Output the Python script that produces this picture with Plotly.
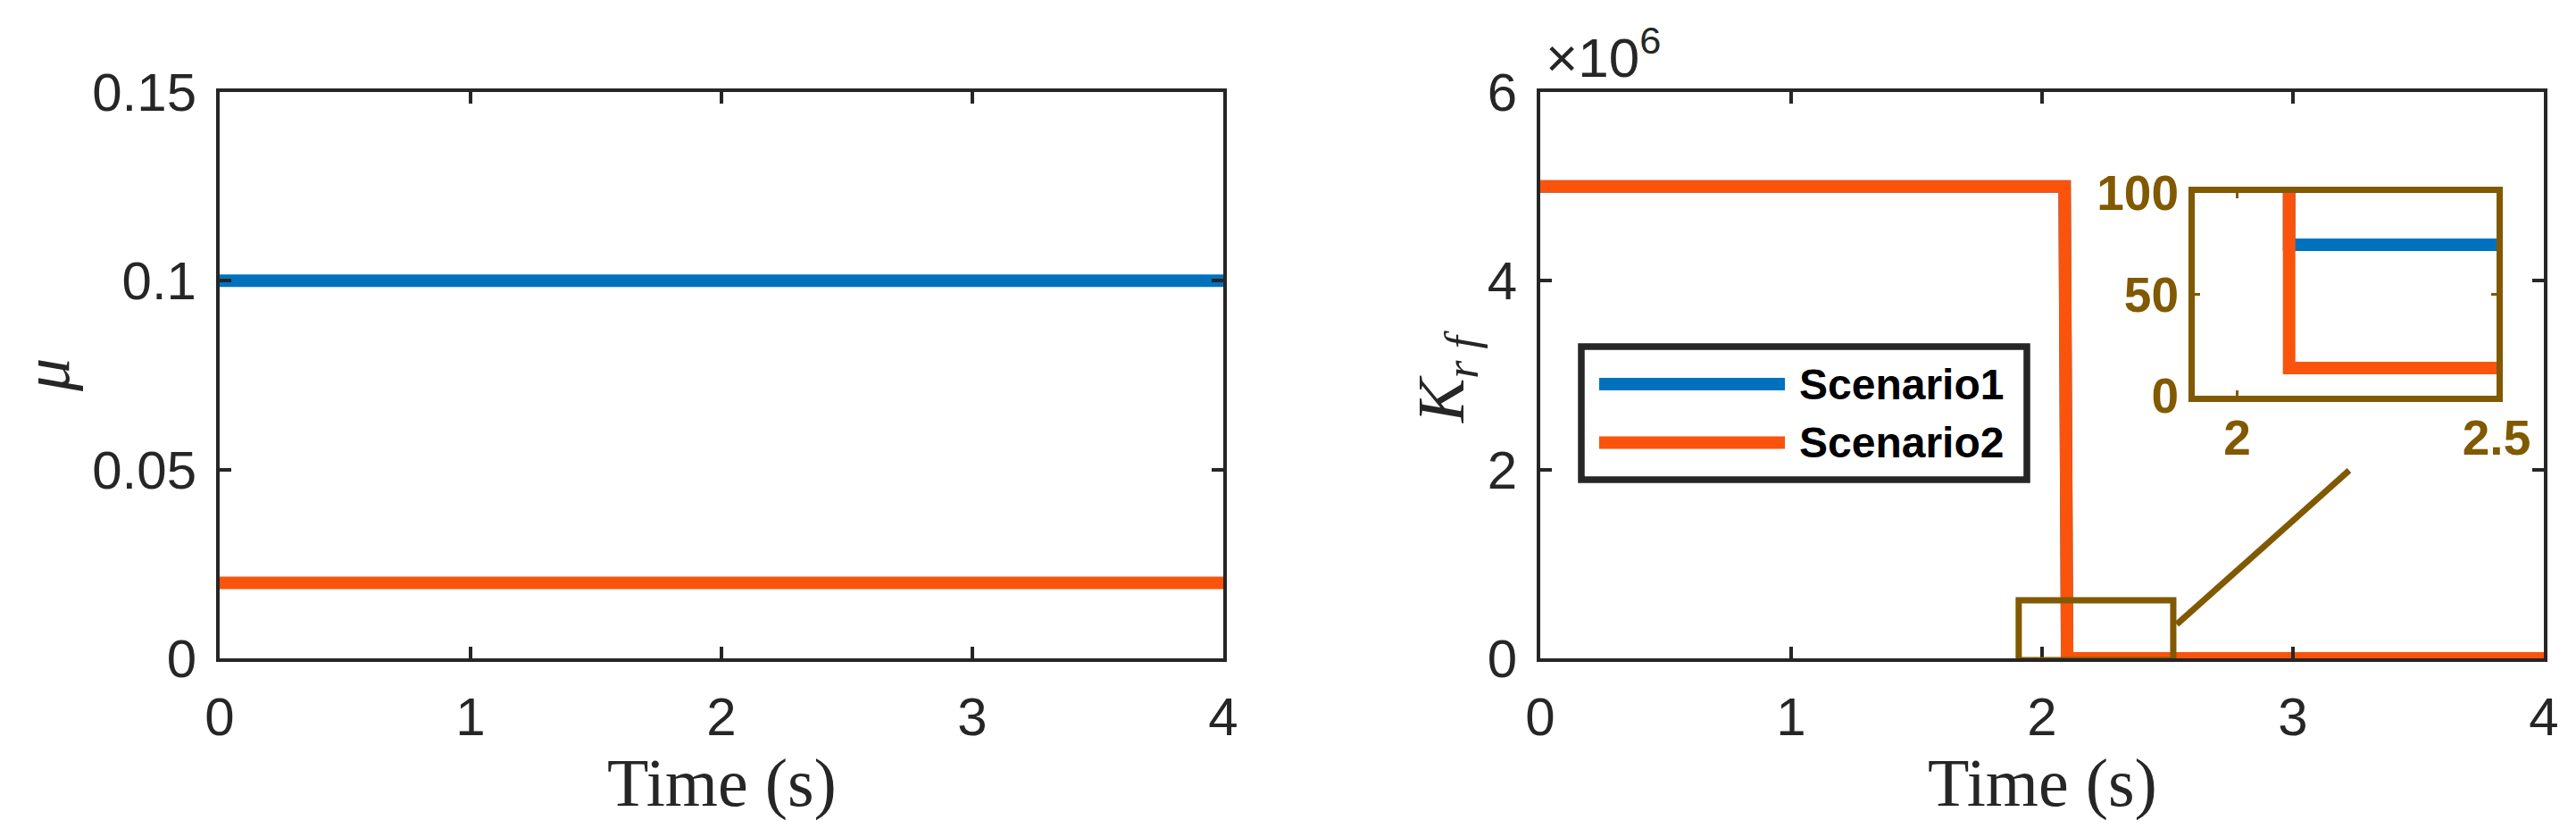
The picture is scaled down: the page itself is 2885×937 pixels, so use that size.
import plotly.graph_objects as go

# page body has an 8px default margin: size the figure so the page fills the window exactly
PAGE_W, PAGE_H = 2885, 937
OFF = 8
W, H = PAGE_W - 2 * OFF, PAGE_H - 2 * OFF

# ---------------- data ----------------
series_names = ["Scenario1", "Scenario2"]

time_mu = [0, 4]
mu_s1 = [0.1, 0.1]
mu_s2 = [0.02, 0.02]

time_k1 = [0, 2.09, 2.1, 4]
krf_s1 = [5e6, 5e6, 74.4, 74.4]
time_k2 = [0, 2.09, 2.1, 4]
krf_s2 = [5e6, 5e6, 13.7, 13.7]

time_ticks = [0, 1, 2, 3, 4]
mu_ticks = [0, 0.05, 0.1, 0.15]
mu_ticklabels = ["0", "0.05", "0.1", "0.15"]
krf_ticks = [0, 2e6, 4e6, 6e6]
krf_ticklabels = ["0", "2", "4", "6"]
inset_xticks = [2, 2.5]
inset_xticklabels = ["2", "2.5"]
inset_yticks = [0, 50, 100]
inset_yticklabels = ["0", "50", "100"]

# zoom-window annotation (data coords of the right axes)
zoom_x = [1.907, 2.523]
zoom_y = [-0.02e6, 0.615e6]
connector_x = [2.537, 3.224]
connector_y = [0.36e6, 1.99e6]

# ---------------- styles ----------------
BLUE = "#0072BD"
ORANGE = "#FA540C"
BROWN = "#805900"
DARK = "#262626"
SANS = "Liberation Sans, Arial, Helvetica, sans-serif"
SERIF = "Liberation Serif, Times New Roman, serif"
LW = 14


def px(x):
    return (x - OFF) / W


def py(y):
    return 1 - (y - OFF) / H


fig = go.Figure()

# left panel
fig.add_trace(go.Scatter(x=time_mu, y=mu_s1, mode="lines", name=series_names[0],
                         line=dict(color=BLUE, width=LW), xaxis="x", yaxis="y", showlegend=False))
fig.add_trace(go.Scatter(x=time_mu, y=mu_s2, mode="lines", name=series_names[1],
                         line=dict(color=ORANGE, width=LW), xaxis="x", yaxis="y", showlegend=False))
# right panel
fig.add_trace(go.Scatter(x=time_k1, y=krf_s1, mode="lines", name=series_names[0],
                         line=dict(color=BLUE, width=LW), xaxis="x2", yaxis="y2", showlegend=False))
fig.add_trace(go.Scatter(x=time_k2, y=krf_s2, mode="lines", name=series_names[1],
                         line=dict(color=ORANGE, width=LW), xaxis="x2", yaxis="y2", showlegend=False))
# inset
fig.add_trace(go.Scatter(x=time_k1, y=krf_s1, mode="lines", name=series_names[0],
                         line=dict(color=BLUE, width=LW), xaxis="x3", yaxis="y3", showlegend=False))
fig.add_trace(go.Scatter(x=time_k2, y=krf_s2, mode="lines", name=series_names[1],
                         line=dict(color=ORANGE, width=LW), xaxis="x3", yaxis="y3", showlegend=False))

main_ax = dict(showline=True, linewidth=4, linecolor=DARK, mirror="allticks",
               ticks="inside", ticklen=13, tickwidth=4, tickcolor=DARK,
               showgrid=False, zeroline=False, automargin=False,
               tickfont=dict(family=SANS, size=60, color=DARK))
inset_ax = dict(showline=True, linewidth=7, linecolor=BROWN, mirror="allticks",
                ticks="inside", ticklen=6, tickwidth=3, tickcolor=BROWN,
                showgrid=False, zeroline=False, automargin=False,
                tickfont=dict(family=SANS, size=55, color=BROWN, weight="bold"))

ydom = [py(737), py(103)]

fig.update_layout(
    width=W, height=H,
    margin=dict(l=0, r=0, t=0, b=0),
    paper_bgcolor="white", plot_bgcolor="white",
    showlegend=False,
    xaxis=dict(main_ax, domain=[px(246), px(1370)], range=[0, 4], tickvals=time_ticks,
               anchor="y", ticklabelstandoff=10),
    yaxis=dict(main_ax, domain=ydom, range=[0, 0.15], tickvals=mu_ticks,
               ticktext=mu_ticklabels, anchor="x", ticklabelstandoff=10),
    xaxis2=dict(main_ax, domain=[px(1725), px(2849)], range=[0, 4], tickvals=time_ticks,
                anchor="y2", ticklabelstandoff=10),
    yaxis2=dict(main_ax, domain=ydom, range=[0, 6e6], tickvals=krf_ticks,
                ticktext=krf_ticklabels, anchor="x2", ticklabelstandoff=10),
    xaxis3=dict(inset_ax, domain=[px(2458), px(2796)], range=[1.918, 2.5],
                tickvals=inset_xticks, ticktext=inset_xticklabels, anchor="y3",
                ticklabelstandoff=-7),
    yaxis3=dict(inset_ax, domain=[py(443), py(216)], range=[0, 100],
                tickvals=inset_yticks, ticktext=inset_yticklabels, anchor="x3",
                ticklabelstandoff=0),
)

shapes = [
    dict(type="rect", xref="x2", yref="y2", x0=zoom_x[0], x1=zoom_x[1],
         y0=zoom_y[0], y1=zoom_y[1], line=dict(color=BROWN, width=7), layer="above"),
    dict(type="line", xref="x2", yref="y2", x0=connector_x[0], x1=connector_x[1],
         y0=connector_y[0], y1=connector_y[1], line=dict(color=BROWN, width=7)),
    # legend box
    dict(type="rect", xref="paper", yref="paper", x0=px(1771), x1=px(2270),
         y0=py(537), y1=py(388), line=dict(color=DARK, width=7.5), fillcolor="white",
         layer="above"),
    dict(type="line", xref="paper", yref="paper", x0=px(1791), x1=px(1999),
         y0=py(430), y1=py(430), line=dict(color=BLUE, width=LW)),
    dict(type="line", xref="paper", yref="paper", x0=px(1791), x1=px(1999),
         y0=py(495.5), y1=py(495.5), line=dict(color=ORANGE, width=LW)),
]
fig.update_layout(shapes=shapes)

annotations = [
    dict(text="<b>" + series_names[0] + "</b>", x=px(2013), y=py(430), xref="paper", yref="paper",
         xanchor="left", yanchor="middle", showarrow=False,
         font=dict(family=SANS, size=48, color="black")),
    dict(text="<b>" + series_names[1] + "</b>", x=px(2013), y=py(495.5), xref="paper", yref="paper",
         xanchor="left", yanchor="middle", showarrow=False,
         font=dict(family=SANS, size=48, color="black")),
    dict(text="<i>μ</i>", x=px(52), y=py(420), xref="paper", yref="paper", textangle=-90,
         xanchor="center", yanchor="middle", showarrow=False,
         font=dict(family=SERIF, size=74, color=DARK)),
    dict(text="<i>K</i><sub><i>r f</i></sub>", x=px(1619), y=py(422), xref="paper", yref="paper",
         textangle=-90, xanchor="center", yanchor="middle", showarrow=False,
         font=dict(family=SERIF, size=74, color=DARK)),
    dict(text="Time (s)", x=px(808), y=py(876), xref="paper", yref="paper",
         xanchor="center", yanchor="middle", showarrow=False,
         font=dict(family=SERIF, size=76, color=DARK)),
    dict(text="Time (s)", x=px(2287), y=py(876), xref="paper", yref="paper",
         xanchor="center", yanchor="middle", showarrow=False,
         font=dict(family=SERIF, size=76, color=DARK)),
    dict(text="×10<sup>6</sup>", x=px(1729), y=py(101), xref="paper", yref="paper",
         xanchor="left", yanchor="bottom", showarrow=False,
         font=dict(family=SANS, size=62, color=DARK)),
]
fig.update_layout(annotations=annotations)

fig.write_html("out.html")
